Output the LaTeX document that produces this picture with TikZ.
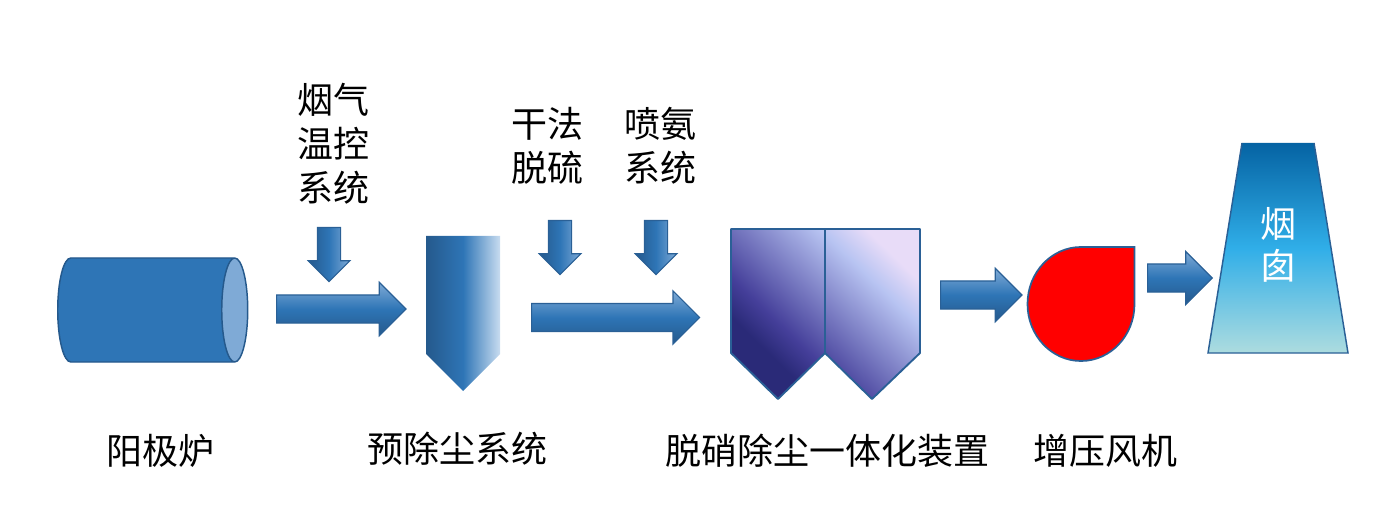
\documentclass[tikz,border=0pt]{standalone}
\usepackage{fontspec}
\usepackage{xcolor}
\setmainfont{Noto Sans CJK SC}
\usetikzlibrary{shapes.arrows, shapes.geometric}
\definecolor{flowlight}{HTML}{7FAAD6}
\definecolor{flowmid}{HTML}{2E75B6}
\definecolor{flowdark}{HTML}{25598C}
\definecolor{flowedge}{HTML}{2A6096}
\definecolor{hopperpale}{HTML}{C8DCF0}
\definecolor{twina}{HTML}{2A2A78}
\definecolor{twinb}{HTML}{453F9A}
\definecolor{twinc}{HTML}{B8C4F2}
\definecolor{twind}{HTML}{E8DCF8}
\definecolor{stacka}{HTML}{0563A3}
\definecolor{stackb}{HTML}{30AEE8}
\definecolor{stackc}{HTML}{ADDCDF}
\pgfdeclareverticalshading{flowh}{100bp}{color(0bp)=(flowdark); color(25bp)=(flowdark); color(50bp)=(flowmid); color(75bp)=(flowlight); color(100bp)=(flowlight)}
\pgfdeclarehorizontalshading{flowv}{100bp}{color(0bp)=(flowdark); color(25bp)=(flowdark); color(50bp)=(flowmid); color(75bp)=(flowlight); color(100bp)=(flowlight)}
\pgfdeclarehorizontalshading{hoppershade}{100bp}{color(0bp)=(flowdark); color(25bp)=(flowdark); color(50bp)=(flowmid); color(75bp)=(hopperpale); color(100bp)=(hopperpale)}
\pgfdeclareverticalshading{twinshade}{100bp}{color(0bp)=(twina); color(31bp)=(twina); color(39bp)=(twinb); color(66bp)=(twinc); color(75bp)=(twind); color(100bp)=(twind)}
\pgfdeclareverticalshading{stackshade}{100bp}{color(0bp)=(stackc); color(25bp)=(stackc); color(50bp)=(stackb); color(75bp)=(stacka); color(100bp)=(stacka)}
\tikzset{
  flowarrow/.style={single arrow, single arrow tip angle=90, anchor=tail, draw=flowedge, line width=0.9pt},
  rightflow/.style={flowarrow, shading=flowh, inner sep=10.1pt, single arrow head extend=9.4pt},
  downflow/.style={flowarrow, shading=flowv, shape border rotate=270, minimum height=40.5pt, inner sep=8.25pt, single arrow head extend=6.9pt},
  label/.style={font=\fontsize{27pt}{33pt}\selectfont, align=center, inner sep=0pt},
}
\begin{document}
\begin{tikzpicture}[x=0.75pt, y=-0.75pt]
        \useasboundingbox (0,0) rectangle (1392,513);

        \node[cylinder, shape aspect=0.25, anchor=west, inner xsep=0pt, inner ysep=39pt, minimum height=142.5pt, draw=flowdark, line width=1.1pt, cylinder uses custom fill, cylinder body fill=flowmid, cylinder end fill=flowlight] (furnace) at (57,310) {};

        \node[rightflow, minimum height=97pt] (flow1) at (276,309) {};
        \node[downflow] (temp)  at (329,227) {};
        \node[downflow] (desox) at (560,220) {};
        \node[downflow] (nh3)   at (656,220) {};
        \node[rightflow, minimum height=126pt] (flow2) at (531,317.5) {};
        \node[rightflow, minimum height=61pt] (flow3) at (940,295) {};
        \node[rightflow, minimum height=48.5pt] (flow4) at (1147,278) {};

        \path[shading=hoppershade] (426,236) -- (500,236) -- (500,354) -- (463,391) -- (426,354) -- cycle;

        \path[shading=twinshade, shading angle=-44] (731,229) -- (825,229) -- (825,353) -- (778,399) -- (731,353) -- cycle
              (825,229) -- (920,229) -- (920,353) -- (872,399) -- (825,353) -- cycle;
        \draw[flowedge, line width=1.4pt, line join=round] (731,229) -- (825,229) -- (825,353) -- (778,399) -- (731,353) -- cycle
              (825,229) -- (920,229) -- (920,353) -- (872,399) -- (825,353);

        \draw[flowedge, line width=1.3pt, fill=red] (1134.5,247) -- (1081,247) arc[start angle=270, end angle=0, x radius=53.5, y radius=57] -- cycle;

        \path[shading=stackshade] (1242,143) -- (1314,143) -- (1348,353) -- (1208,353) -- cycle;
        \draw[flowedge, line width=1.1pt] (1242,143) -- (1208,353) -- (1348,353) -- (1314,143);

        \node[label, text=white, font=\fontsize{27pt}{31.5pt}\selectfont] (stack) at (1278,245) {烟\\囱};

        \node[label] (furnacetext) at (160,451) {阳极炉};
        \node[label] (dusttext)    at (457,449) {预除尘系统};
        \node[label] (twintext)    at (827,451) {脱硝除尘一体化装置};
        \node[label] (fantext)     at (1105,451) {增压风机};
        \node[label] (temptext)    at (333,144) {烟气\\温控\\系统};
        \node[label] (desoxtext)   at (547,146) {干法\\脱硫};
        \node[label] (nh3text)     at (660,146) {喷氨\\系统};

      \end{tikzpicture}
\end{document}
